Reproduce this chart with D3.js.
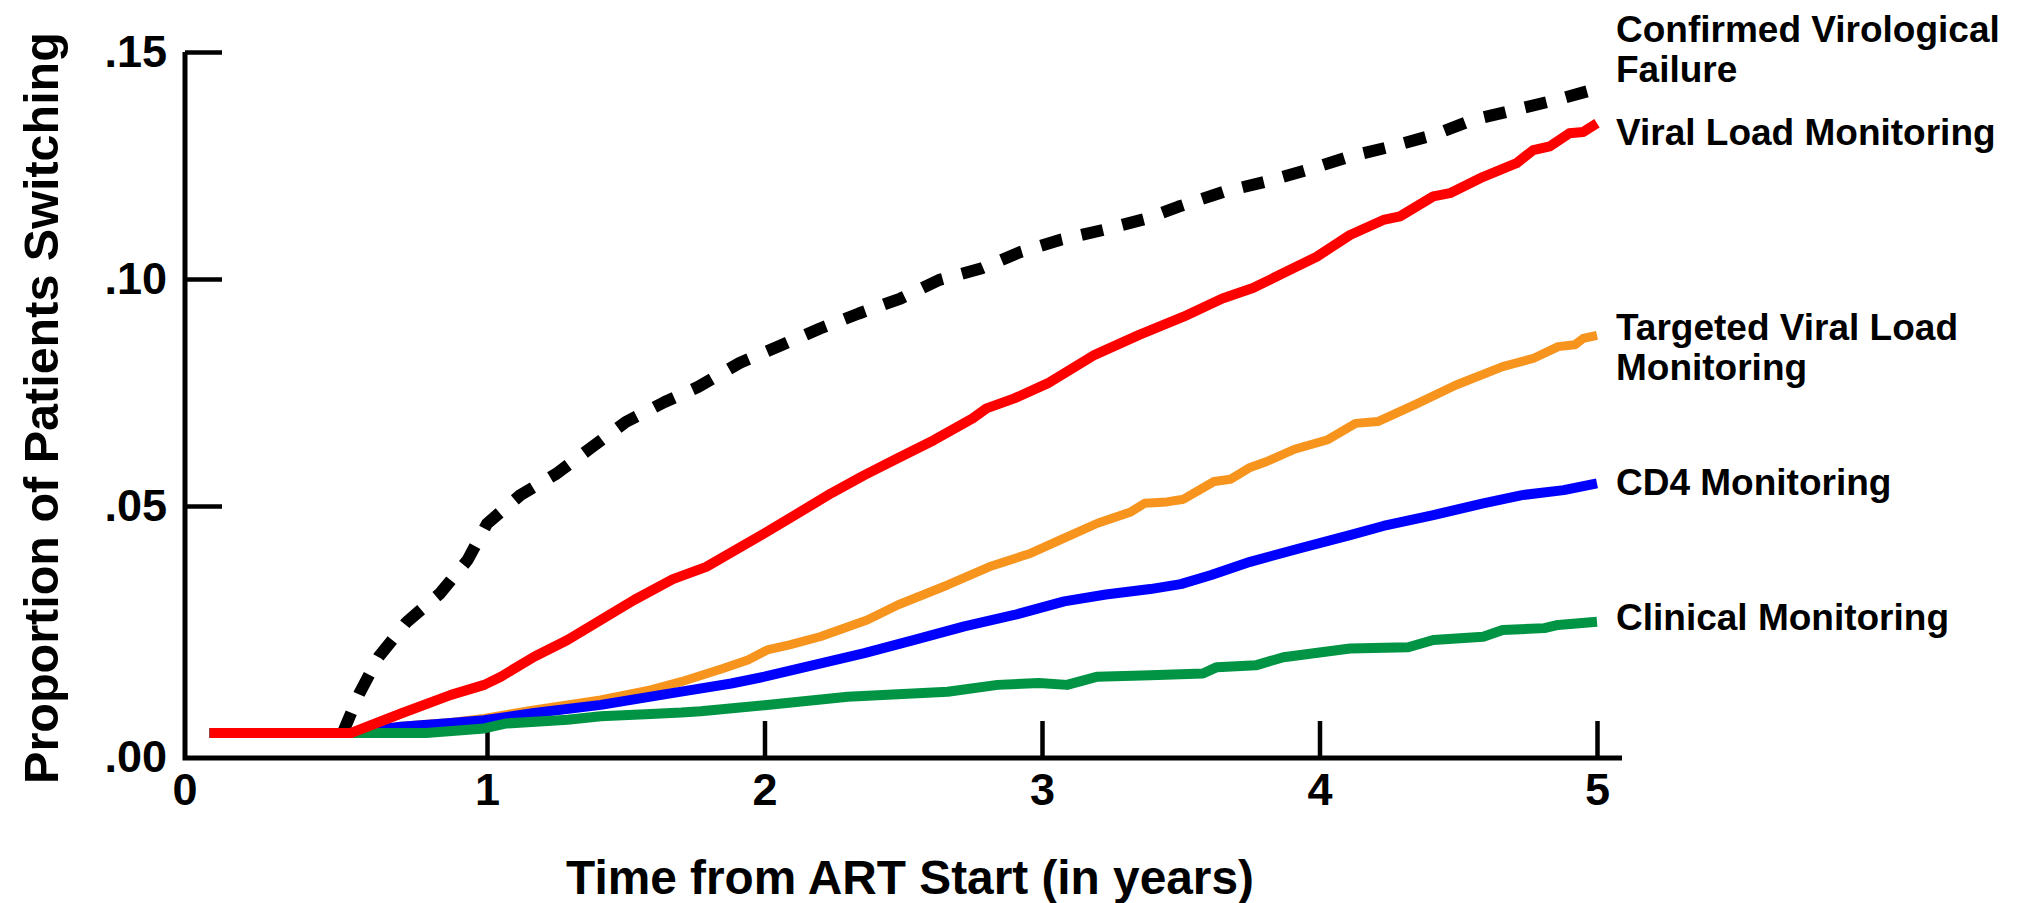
<!DOCTYPE html>
<html>
<head>
<meta charset="utf-8">
<script src="https://cdn.jsdelivr.net/npm/d3@7"></script>
<style>
  html, body { margin: 0; padding: 0; background: #fff; }
  svg { display: block; }
  text { font-family: "Liberation Sans", Arial, Helvetica, sans-serif; font-weight: bold; fill: #000; }
</style>
</head>
<body>
<svg id="chart" width="2029" height="903"></svg>
<script>
// Cumulative proportion of patients switching to second-line ART, by monitoring strategy
// Each series: [years since ART start, proportion switching]
const confirmedFailure = [
  [0.48, 0], [0.54, 0.0087], [0.61, 0.0168], [0.71, 0.0244], [0.83, 0.0307], [0.93, 0.0381],
  [1.00, 0.0461], [1.12, 0.0524], [1.25, 0.0571], [1.37, 0.0626], [1.50, 0.0685], [1.64, 0.0729],
  [1.76, 0.0762], [1.91, 0.0815], [2.06, 0.0854], [2.20, 0.0891], [2.34, 0.0924], [2.49, 0.0957],
  [2.63, 0.0998], [2.78, 0.1023], [2.92, 0.1059], [3.07, 0.1087], [3.22, 0.1108], [3.37, 0.1132],
  [3.49, 0.1159], [3.66, 0.1193], [3.81, 0.1215], [3.96, 0.1241], [4.11, 0.1270], [4.26, 0.1292],
  [4.41, 0.1317], [4.55, 0.1350], [4.70, 0.1372], [4.85, 0.1394], [4.98, 0.1416]
];
const viralLoad = [
  [0, 0], [0.51, 0], [0.69, 0.0043], [0.87, 0.0084], [0.99, 0.0106], [1.05, 0.0124], [1.17, 0.0168],
  [1.29, 0.0205], [1.41, 0.0249], [1.53, 0.0293], [1.67, 0.0339], [1.79, 0.0366], [2.00, 0.0440],
  [2.08, 0.0469], [2.24, 0.0528], [2.36, 0.0568], [2.48, 0.0605], [2.61, 0.0645], [2.75, 0.0693],
  [2.80, 0.0715], [2.90, 0.0737], [3.02, 0.0770], [3.19, 0.0833], [3.35, 0.0877], [3.51, 0.0917],
  [3.65, 0.0957], [3.76, 0.0980], [3.87, 0.1013], [3.99, 0.1049], [4.11, 0.1097], [4.23, 0.1130],
  [4.29, 0.1138], [4.41, 0.1182], [4.47, 0.1189], [4.59, 0.1225], [4.71, 0.1255], [4.77, 0.1284],
  [4.83, 0.1292], [4.90, 0.1321], [4.95, 0.1324], [5.00, 0.1343]
];
const targetedViralLoad = [
  [0, 0], [0.51, 0], [0.69, 0.0015], [0.87, 0.0023], [0.99, 0.0032], [1.17, 0.0051], [1.41, 0.0073],
  [1.59, 0.0095], [1.70, 0.0113], [1.85, 0.0142], [1.94, 0.0161], [2.01, 0.0183], [2.09, 0.0194],
  [2.20, 0.0212], [2.37, 0.0249], [2.48, 0.0282], [2.66, 0.0326], [2.81, 0.0366], [2.96, 0.0396],
  [3.09, 0.0432], [3.20, 0.0462], [3.32, 0.0487], [3.37, 0.0506], [3.45, 0.0509], [3.51, 0.0515],
  [3.62, 0.0554], [3.68, 0.0559], [3.75, 0.0585], [3.81, 0.0598], [3.91, 0.0625], [4.03, 0.0646],
  [4.13, 0.0682], [4.21, 0.0686], [4.35, 0.0725], [4.49, 0.0766], [4.66, 0.0807], [4.77, 0.0825],
  [4.86, 0.0851], [4.92, 0.0855], [4.95, 0.0869], [5.00, 0.0876]
];
const cd4 = [
  [0, 0], [0.51, 0], [0.69, 0.0014], [0.87, 0.0022], [0.99, 0.0028], [1.17, 0.0044], [1.41, 0.0062],
  [1.59, 0.0080], [1.70, 0.0091], [1.88, 0.0109], [2.00, 0.0124], [2.18, 0.0150], [2.36, 0.0176],
  [2.54, 0.0205], [2.72, 0.0235], [2.90, 0.0260], [3.08, 0.0290], [3.23, 0.0305], [3.39, 0.0317],
  [3.50, 0.0328], [3.61, 0.0348], [3.75, 0.0377], [3.93, 0.0407], [4.11, 0.0436], [4.23, 0.0456],
  [4.41, 0.0480], [4.59, 0.0506], [4.73, 0.0524], [4.88, 0.0535], [5.00, 0.0550]
];
const clinical = [
  [0, 0], [0.78, 0], [0.99, 0.0010], [1.07, 0.0021], [1.29, 0.0029], [1.41, 0.0037], [1.59, 0.0042],
  [1.70, 0.0045], [1.77, 0.0048], [2.00, 0.0061], [2.30, 0.0080], [2.66, 0.0091], [2.84, 0.0106],
  [2.99, 0.0110], [3.09, 0.0106], [3.20, 0.0124], [3.39, 0.0127], [3.58, 0.0131], [3.63, 0.0145],
  [3.77, 0.0149], [3.87, 0.0167], [4.11, 0.0186], [4.32, 0.0189], [4.41, 0.0205], [4.59, 0.0212],
  [4.66, 0.0227], [4.81, 0.0231], [4.86, 0.0238], [5.00, 0.0245]
];

const seriesNames = [
  ["Confirmed Virological", "Failure"],
  ["Viral Load Monitoring"],
  ["Targeted Viral Load", "Monitoring"],
  ["CD4 Monitoring"],
  ["Clinical Monitoring"]
];
const xTicks = [0, 1, 2, 3, 4, 5];
const yTicks = [0, 0.05, 0.10, 0.15];
const xTitle = "Time from ART Start (in years)";
const yTitle = "Proportion of Patients Switching";

// Drawing order: dashed failure curve at the back, viral load on top
const series = [
  { data: confirmedFailure, name: seriesNames[0], color: "#000000", width: 12, dash: "22,20", labelDy: -48 },
  { data: targetedViralLoad, name: seriesNames[2], color: "#F7941E", width: 9, dash: null, labelDy: 5 },
  { data: cd4, name: seriesNames[3], color: "#0000FF", width: 10, dash: null, labelDy: 12 },
  { data: clinical, name: seriesNames[4], color: "#009444", width: 10, dash: null, labelDy: 8 },
  { data: viralLoad, name: seriesNames[1], color: "#FF0000", width: 10, dash: null, labelDy: 22 }
];

const svg = d3.select("#chart");
svg.append("rect").attr("width", 2029).attr("height", 903).attr("fill", "#fff");

// Plot region is inset from the axes, as in the original Stata-style figure
const axisX = 185, axisY = 758;
const x = d3.scaleLinear().domain([0, 5]).range([209.5, 1597]);
const y = d3.scaleLinear().domain([0, 0.15]).range([733, 52]);

const tickLen = 37;
const fmtY = v => d3.format(".2f")(v).replace(/^0/, "");

// Y axis
const yAxisG = svg.append("g")
  .attr("transform", `translate(${axisX},0)`)
  .call(d3.axisLeft(y).tickValues(yTicks).tickFormat(fmtY)
    .tickSizeInner(-tickLen).tickSizeOuter(0).tickPadding(18));
yAxisG.select(".domain").remove();
yAxisG.selectAll(".tick line").attr("stroke", "#000").attr("stroke-width", 4.5);
yAxisG.selectAll(".tick text").style("font-size", "45px").attr("fill", "#000");
yAxisG.selectAll(".tick").filter(d => d === 0)
  .attr("transform", `translate(0,${axisY})`)
  .select("line").remove();

// X axis
const xAxisG = svg.append("g")
  .attr("transform", `translate(0,${axisY})`)
  .call(d3.axisBottom(x).tickValues(xTicks).tickFormat(d3.format("d"))
    .tickSizeInner(-tickLen).tickSizeOuter(0).tickPadding(15));
xAxisG.select(".domain").remove();
xAxisG.selectAll(".tick line").attr("stroke", "#000").attr("stroke-width", 4.5);
xAxisG.selectAll(".tick text").style("font-size", "45px").attr("fill", "#000");
xAxisG.selectAll(".tick").filter(d => d === 0)
  .attr("transform", `translate(${axisX},0)`)
  .select("line").remove();

// Axis lines (L-shaped frame)
svg.append("path")
  .attr("d", `M${axisX},${y(0.15)}V${axisY}H${x(5) + 25}`)
  .attr("fill", "none").attr("stroke", "#000").attr("stroke-width", 5)
  .attr("stroke-linejoin", "miter");

// Curves
const line = d3.line().x(d => x(d[0])).y(d => y(d[1]));
svg.append("g").selectAll("path").data(series).join("path")
  .attr("d", d => line(d.data))
  .attr("fill", "none")
  .attr("stroke", d => d.color)
  .attr("stroke-width", d => d.width)
  .attr("stroke-dasharray", d => d.dash)
  .attr("stroke-linejoin", "round")
  .attr("stroke-linecap", "butt");

// Curve labels at the right end of each line
const labelX = x(5) + 19;
const labels = svg.append("g").selectAll("text").data(series).join("text")
  .attr("x", labelX)
  .attr("y", d => y(d.data[d.data.length - 1][1]) + d.labelDy)
  .style("font-size", "37px");
labels.selectAll("tspan").data(d => d.name).join("tspan")
  .attr("x", labelX)
  .attr("dy", (d, i) => i === 0 ? 0 : 40)
  .text(d => d);

// Axis titles
svg.append("text")
  .attr("x", 910).attr("y", 894)
  .attr("text-anchor", "middle")
  .style("font-size", "47.8px")
  .text(xTitle);

svg.append("text")
  .attr("transform", "translate(58,408) rotate(-90)")
  .attr("text-anchor", "middle")
  .style("font-size", "48.5px")
  .text(yTitle);
</script>
</body>
</html>
